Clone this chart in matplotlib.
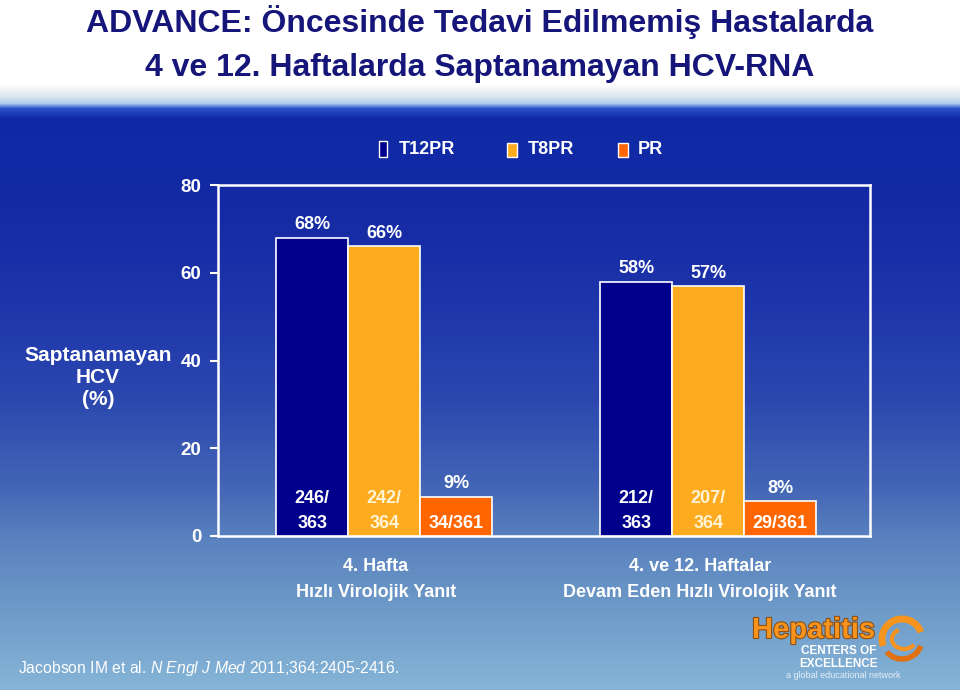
import numpy as np
import matplotlib
matplotlib.use('Agg')
import matplotlib.pyplot as plt
import matplotlib.font_manager as font_manager
import matplotlib.transforms as mtransforms
from matplotlib.patches import Rectangle, Arc
import matplotlib.patheffects as pe

# data
series = ['T12PR', 'T8PR', 'PR']
groups = ['4. Hafta', '4. ve 12. Haftalar']
subtitles = ['Hızlı Virolojik Yanıt', 'Devam Eden Hızlı Virolojik Yanıt']
values = {
    'T12PR': [68, 58],
    'T8PR': [66, 57],
    'PR': [9, 8],
}
counts = {
    'T12PR': ['246/\n363', '212/\n363'],
    'T8PR': ['242/\n364', '207/\n364'],
    'PR': ['34/361', '29/361'],
}
yticks = [0, 20, 40, 60, 80]

colors = {'T12PR': '#00008c', 'T8PR': '#ffab1f', 'PR': '#ff6600'}
count_colors = {'T12PR': 'white', 'T8PR': '#fff4d6', 'PR': 'white'}

names = [f.name for f in font_manager.fontManager.ttflist]
base = 'Liberation Sans' if 'Liberation Sans' in names else 'DejaVu Sans'
narrow = 'Liberation Sans Narrow' if 'Liberation Sans Narrow' in names else base
plt.rcParams['font.family'] = [base, 'DejaVu Sans']
plt.rcParams['mathtext.fontset'] = 'custom'
plt.rcParams['mathtext.it'] = base + ':italic'
plt.rcParams['mathtext.rm'] = base

W, H = 960, 690
fig = plt.figure(figsize=(9.6, 6.9), dpi=100)


def fx(x):
    return x / W


def fy(y):
    return 1 - y / H


# background gradient
stops_y = [0, 84, 96, 103, 108, 118, 200, 300, 400, 480, 540, 600, 690]
stops_c = ['#ffffff', '#ffffff', '#dce6ee', '#a8cbee', '#2a52c8', '#0f2aa6',
           '#1429a4', '#1d34aa', '#2c48af', '#4163b5', '#5a82bf', '#6b97c6', '#86b5d8']
rgb = np.array([matplotlib.colors.to_rgb(c) for c in stops_c])
rows = np.arange(H)
grad = np.stack([np.interp(rows, stops_y, rgb[:, k]) for k in range(3)], axis=1)
grad = np.repeat(grad[:, None, :], 4, axis=1)
bg = fig.add_axes([0, 0, 1, 1], zorder=-1)
bg.imshow(grad, aspect='auto', extent=[0, 1, 0, 1], interpolation='bilinear')
bg.axis('off')

# title
title_col = '#15157a'
fig.text(0.5, fy(22), 'ADVANCE: Öncesinde Tedavi Edilmemiş Hastalarda', ha='center', va='center',
         fontsize=23, fontweight='bold', color=title_col, family=[narrow, 'DejaVu Sans'])
fig.text(0.5, fy(68), '4 ve 12. Haftalarda Saptanamayan HCV-RNA', ha='center', va='center',
         fontsize=23, fontweight='bold', color=title_col, family=[narrow, 'DejaVu Sans'])

# main axes
ax = fig.add_axes([fx(218), fy(536), fx(870 - 218), (536 - 185) / H])
ax.set_facecolor('none')
bar_w = 1.0
group_pos = np.array([2.31, 6.81])
offsets = [-1, 0, 1]

for s, off in zip(series, offsets):
    xs = group_pos + off * bar_w
    ax.bar(xs, values[s], width=bar_w, color=colors[s], edgecolor='white', linewidth=1.2, zorder=3)
    for x, v, c in zip(xs, values[s], counts[s]):
        ax.annotate(f'{v}%', (x, v), xytext=(0, 6), textcoords='offset points',
                    ha='center', va='baseline', color='white', fontsize=13, fontweight='bold')
        lines = c.split('\n')
        for k, line in enumerate(reversed(lines)):
            ax.annotate(line, (x, 0), xytext=(0, 6 + k * 18), textcoords='offset points',
                        ha='center', va='baseline', color=count_colors[s], fontsize=13, fontweight='bold')

ax.set_xlim(0, (870 - 218) / 72)
ax.set_ylim(0, 80)
ax.set_xticks([])
ax.set_yticks(yticks)
ax.tick_params(axis='y', colors='white', length=6, width=1.5, pad=6, labelsize=13.5)
for t in ax.get_yticklabels():
    t.set_fontweight('bold')
for sp in ax.spines.values():
    sp.set_color('white')
    sp.set_linewidth(1.8)

fig.text(fx(98), fy(378), 'Saptanamayan\nHCV\n(%)', ha='center', va='center',
         color='white', fontsize=15, fontweight='bold', linespacing=1.2)

# group labels
tr = mtransforms.blended_transform_factory(ax.transData, fig.transFigure)
for gx, g, sub in zip(group_pos, groups, subtitles):
    ax.text(gx - 0.12, fy(571), g, transform=tr, ha='center', va='baseline',
            color='white', fontsize=13, fontweight='bold')
    ax.text(gx - 0.12, fy(597), sub, transform=tr, ha='center', va='baseline',
            color='white', fontsize=13, fontweight='bold')

# legend
leg_sq = [(379, 141, 8, 16), (507, 143, 10, 14), (618, 143, 10, 14)]
leg_tx = [399, 528, 638]
for s, (lx, ly, lw, lh), tx in zip(series, leg_sq, leg_tx):
    fig.patches.append(Rectangle((fx(lx), fy(ly + lh)), lw / W, lh / H, transform=fig.transFigure,
                                 facecolor=colors[s], edgecolor='white', linewidth=1.0))
    fig.text(fx(tx), fy(150), s, ha='left', va='center', color='white', fontsize=13, fontweight='bold')

# citation
fig.text(fx(18), fy(668), 'Jacobson IM et al. $\\it{N\\ Engl\\ J\\ Med}$ 2011;364:2405-2416.',
         ha='left', va='center', color='white', fontsize=11.3)

# logo
fig.text(fx(752), fy(630), 'Hepatitis', ha='left', va='center', color='#f7941d', fontsize=21,
         fontweight='bold', path_effects=[pe.withStroke(linewidth=1.5, foreground='#8a4a10')])
fig.text(fx(839), fy(651), 'CENTERS OF', ha='center', va='center', color='white', fontsize=8.5, fontweight='bold')
fig.text(fx(839), fy(664), 'EXCELLENCE', ha='center', va='center', color='white', fontsize=8.5, fontweight='bold')
fig.text(fx(843), fy(676), 'a global educational network', ha='center', va='center', color='#e4eef8', fontsize=6.5)
lg = fig.add_axes([fx(878), fy(663), fx(48), 48 / H])
lg.set_xlim(-1.2, 1.2)
lg.set_ylim(-1.2, 1.2)
lg.axis('off')
lg.add_patch(Arc((0, 0), 2, 2, theta1=20, theta2=200, color='#f7941d', linewidth=5))
lg.add_patch(Arc((0, 0), 2, 2, theta1=220, theta2=340, color='#e07010', linewidth=4))
lg.add_patch(Arc((0.1, 0), 1.2, 1.0, theta1=120, theta2=330, color='#f7941d', linewidth=3))

fig.savefig('out.png', dpi=100)
